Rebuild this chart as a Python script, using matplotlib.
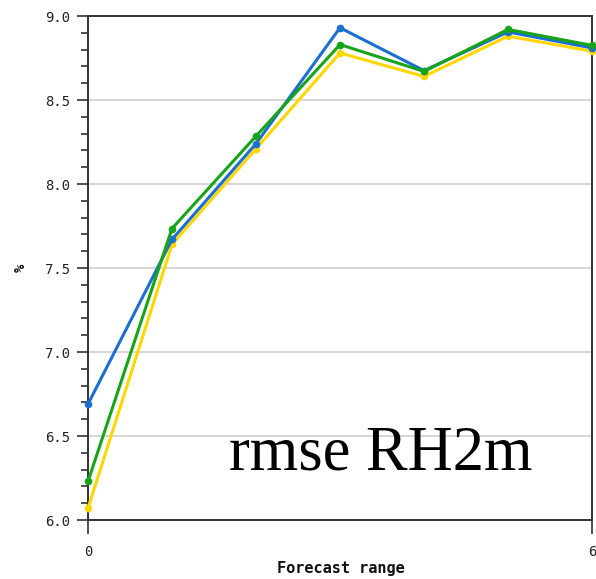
import matplotlib
matplotlib.use("Agg")
from matplotlib import pyplot as plt
from matplotlib.ticker import MultipleLocator

steps = [0, 1, 2, 3, 4, 5, 6]
rmse_yellow = [6.07, 7.64, 8.21, 8.78, 8.64, 8.88, 8.79]
rmse_blue = [6.69, 7.67, 8.24, 8.93, 8.675, 8.905, 8.81]
rmse_green = [6.23, 7.735, 8.285, 8.83, 8.67, 8.92, 8.825]

W, H = 596, 579
fig = plt.figure(figsize=(W / 100, H / 100), dpi=100)
ax = fig.add_axes([88 / W, 1 - 520 / H, (592 - 88) / W, (520 - 16) / H])

ax.plot(steps, rmse_yellow, color='#ffd700', lw=2.2, marker='o', ms=4.5, clip_on=False, zorder=3)
ax.plot(steps, rmse_blue, color='#1a6fd1', lw=2.2, marker='o', ms=4.5, clip_on=False, zorder=4)
ax.plot(steps, rmse_green, color='#18a418', lw=2.2, marker='o', ms=4.5, clip_on=False, zorder=5)

ax.set_xlim(0, 6)
ax.set_ylim(6.0, 9.0)
ax.set_xticks([0, 6])
ax.yaxis.set_major_locator(MultipleLocator(0.5))
ax.yaxis.set_minor_locator(MultipleLocator(0.1))
ax.yaxis.set_major_formatter(matplotlib.ticker.FormatStrFormatter('%.1f'))
ax.grid(True, axis='y', which='major', color='#d0d0d0', lw=1.2)
ax.set_axisbelow(True)

for s in ax.spines.values():
    s.set_color('#333333')
    s.set_linewidth(1.4)
ax.tick_params(axis='both', which='major', length=8, width=1.2, color='#333333',
               labelsize=10, labelcolor='#222222', pad=5)
ax.tick_params(axis='y', which='minor', length=5, width=1.2, color='#333333')
ax.tick_params(axis='x', which='major', length=10, pad=8)
for lab in ax.get_xticklabels() + ax.get_yticklabels():
    lab.set_family('DejaVu Sans Mono')

fig.text(341 / W, 1 - 569 / H, 'Forecast range', ha='center', va='center',
         family='DejaVu Sans Mono', fontweight='bold', fontsize=11, color='#111111')
fig.text(21 / W, 1 - 268 / H, '%', ha='center', va='center', rotation=90,
         family='DejaVu Sans Mono', fontweight='bold', fontsize=10, color='#111111')

fig.text(229 / W, 1 - 470 / H, 'rmse RH2m', ha='left', va='baseline',
         family='Liberation Serif', fontsize=45, color='black')

fig.savefig('out.png', dpi=100)
